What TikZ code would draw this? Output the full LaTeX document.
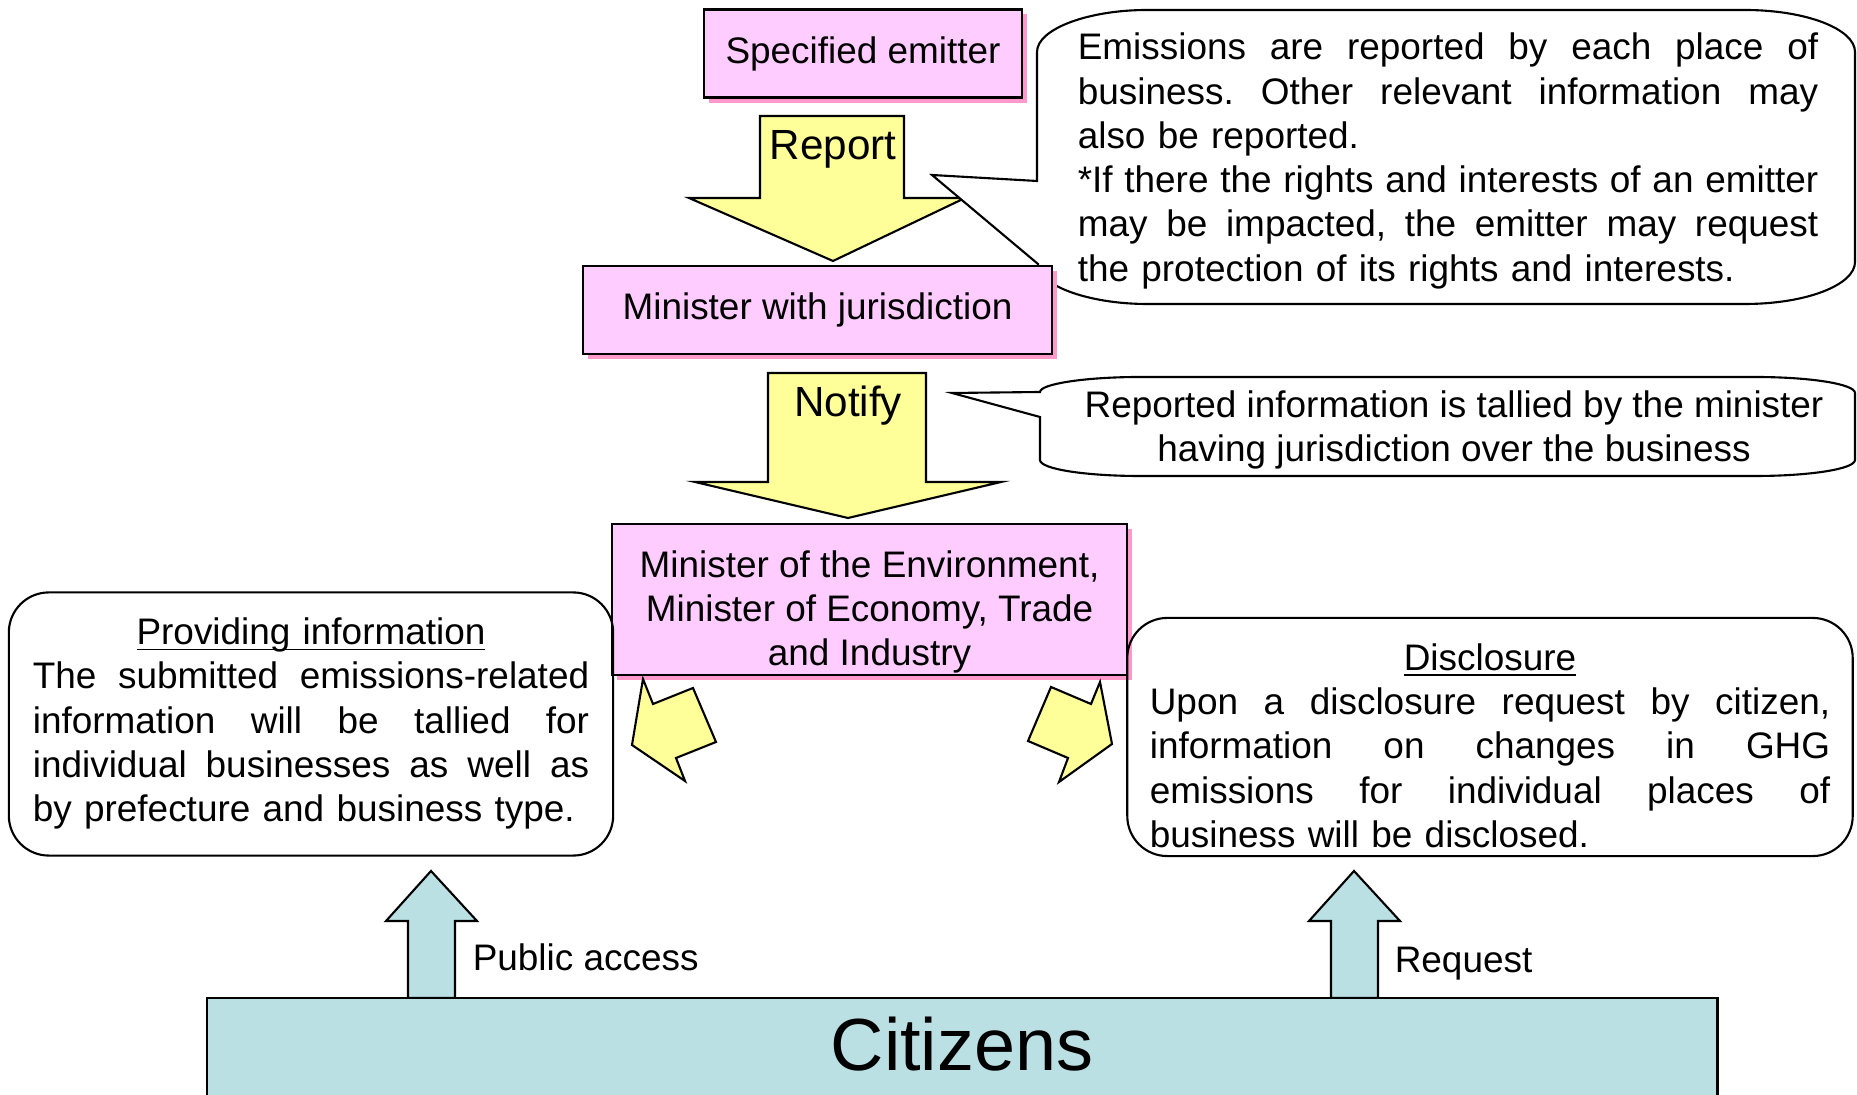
\documentclass[tikz,border=0pt]{standalone}
\usepackage{fontspec}
\setmainfont{Liberation Sans}
\usetikzlibrary{shadows}

\definecolor{boxpink}{RGB}{255,204,255}
\definecolor{shadowpink}{RGB}{255,153,204}
\definecolor{arrowyellow}{RGB}{255,255,153}
\definecolor{citizencyan}{RGB}{187,224,227}

% justified line of a given width, words split by \hfill
\newcommand{\jline}[2]{\makebox[#1][l]{#2}}
\newcommand{\ulhead}[1]{\underline{\smash{#1}}}

\begin{document}
\begin{tikzpicture}[x=0.01cm, y=-0.01cm,
            every node/.append style={font=\fontsize{10.5}{12.6}\selectfont},
            every path/.append style={line width=0.6pt},
            pinkbox/.style={draw, fill=boxpink,
                drop shadow={shadow xshift=0.05cm, shadow yshift=-0.05cm, fill=shadowpink, opacity=1}},
            yellowarrow/.style={draw, fill=arrowyellow},
            cyanarrow/.style={draw, fill=citizencyan},
            infobox/.style={draw, rounded corners=0.4cm},
            callout/.style={draw, fill=white},
            bigword/.style={font=\fontsize{12}{14}\selectfont}
        ]
            \useasboundingbox (0,0) rectangle (1857,1095);

            % report step
            \draw[yellowarrow] (760,116) -- (904,116) -- (904,198) -- (965,198) -- (833,261) -- (689,198) -- (760,198) -- cycle;
            \node[bigword] (report) at (833,149) {Report};

            \draw[callout] (1037,181) -- (932,175) -- (1038,264)
                .. controls (1037,285) and (1088,304) .. (1147,304) -- (1745,304)
                .. controls (1806,304) and (1855,285) .. (1855,262) -- (1855,52)
                .. controls (1855,29) and (1806,10) .. (1745,10) -- (1147,10)
                .. controls (1088,10) and (1037,29) .. (1037,52) -- cycle;
            \node[text width=7.40cm, inner sep=0pt] (reportnote) at (1448,161) {%
                \jline{7.40cm}{Emissions\hfill are\hfill reported\hfill by\hfill each\hfill place\hfill of}\\
                \jline{7.40cm}{business.\hfill Other\hfill relevant\hfill information\hfill may}\\
                also be reported.\\
                \jline{7.40cm}{*If\hfill there\hfill the\hfill rights\hfill and\hfill interests\hfill of\hfill an\hfill emitter}\\
                \jline{7.40cm}{may\hfill be\hfill impacted,\hfill the\hfill emitter\hfill may\hfill request}\\
                the protection of its rights and interests.};

            \node[pinkbox, minimum width=3.18cm, minimum height=0.88cm] (emitter) at (863,53.5) {Specified emitter};
            \node[pinkbox, minimum width=4.69cm, minimum height=0.88cm] (juris) at (817.5,310) {Minister with jurisdiction};

            % notify step
            \draw[yellowarrow] (768,373) -- (926,373) -- (926,482) -- (1001,482) -- (848,518) -- (695,482) -- (768,482) -- cycle;
            \node[bigword] (notify) at (848,406) {Notify};

            \draw[callout] (1040,417) -- (952,393) -- (1040,392)
                .. controls (1040,384) and (1085,377) .. (1140,377) -- (1755,377)
                .. controls (1810,377) and (1855,384) .. (1855,393) -- (1855,460)
                .. controls (1855,469) and (1810,476) .. (1755,476) -- (1140,476)
                .. controls (1085,476) and (1040,469) .. (1040,460) -- cycle;
            \node[align=center] (tallynote) at (1454,430)
                {Reported information is tallied by the minister\\having jurisdiction over the business};

            \node[pinkbox, minimum width=5.15cm, minimum height=1.515cm] (envmin) at (869.5,599.5) {};
            \node[align=center] (envtxt) at (869.5,612) {Minister of the Environment,\\Minister of Economy, Trade\\and Industry};

            % the two ways out
            \draw[yellowarrow] (643,679) -- (653,704) -- (693,688) -- (716,742) -- (676,758) -- (685,781) -- (632,745) -- cycle;
            \draw[yellowarrow] (1100,682) -- (1091,704) -- (1051,687) -- (1028,741) -- (1068,758) -- (1059,782) -- (1112,744) -- cycle;

            \node[infobox, minimum width=6.04cm, minimum height=2.63cm] (provide) at (311,724) {};
            \node[text width=5.56cm, inner sep=0pt] (providetxt) at (311,737) {%
                {\centering\ulhead{Providing information}\par}
                \jline{5.56cm}{The\hfill submitted\hfill emissions-related}\\
                \jline{5.56cm}{information\hfill will\hfill be\hfill tallied\hfill for}\\
                \jline{5.56cm}{individual\hfill businesses\hfill as\hfill well\hfill as}\\
                by prefecture and business type.};

            \node[infobox, minimum width=7.25cm, minimum height=2.38cm] (disclose) at (1490,737) {};
            \node[text width=6.80cm, inner sep=0pt] (disclosetxt) at (1490,759) {%
                {\centering\ulhead{Disclosure}\par}
                \jline{6.80cm}{Upon\hfill a\hfill disclosure\hfill request\hfill by\hfill citizen,}\\
                \jline{6.80cm}{information\hfill on\hfill changes\hfill in\hfill GHG}\\
                \jline{6.80cm}{emissions\hfill for\hfill individual\hfill places\hfill of}\\
                business will be disclosed.};

            % citizens
            \foreach \x in {431,1354}
                \draw[cyanarrow] (\x,871) -- ++(46,50) -- ++(-22,0) -- ++(0,77) -- ++(-47,0) -- ++(0,-77) -- ++(-22,0) -- cycle;
            \node[anchor=base west] (publiclbl) at (460,971) {Public access};
            \node[anchor=base west] (requestlbl) at (1382,973) {Request};

            \node[draw, fill=citizencyan, minimum width=15.1cm, minimum height=1.22cm, anchor=north] (citizenbox) at (962,997) {};
            \node[font=\fontsize{21}{25}\selectfont] (citizens) at (962,1044) {Citizens};
        \end{tikzpicture}
\end{document}
